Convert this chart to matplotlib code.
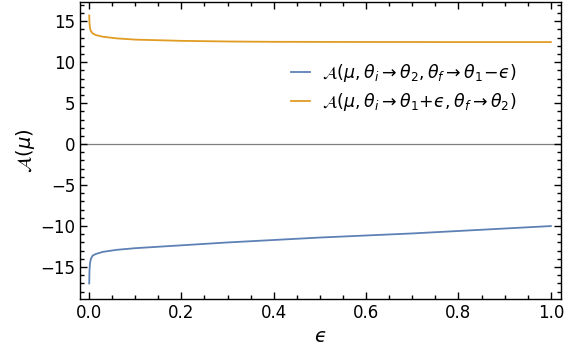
import numpy as np
import matplotlib
matplotlib.use("Agg")
import matplotlib.pyplot as plt
from matplotlib.ticker import MultipleLocator

# values
eps_blue = [0.0005, 0.001, 0.002, 0.004, 0.008, 0.015, 0.03, 0.06, 0.1,
            0.2, 0.3, 0.4, 0.5, 0.6, 0.7, 0.8, 0.9, 1.0]
a_blue = [-17.0, -15.5, -14.6, -14.0, -13.6, -13.4, -13.15, -12.9, -12.7,
          -12.35, -12.0, -11.7, -11.4, -11.15, -10.9, -10.6, -10.3, -10.0]

eps_orange = [0.0005, 0.001, 0.002, 0.004, 0.008, 0.015, 0.03, 0.06, 0.1,
              0.2, 0.3, 0.4, 0.6, 0.8, 1.0]
a_orange = [15.7, 14.8, 14.2, 13.8, 13.5, 13.3, 13.1, 12.9, 12.75,
            12.6, 12.52, 12.48, 12.46, 12.45, 12.45]

label_blue = "$\\mathcal{A}(\\mu,\\theta_i\\rightarrow\\theta_2,\\theta_f\\rightarrow\\theta_1\\!-\\!\u03f5)$"
label_orange = "$\\mathcal{A}(\\mu,\\theta_i\\rightarrow\\theta_1\\!+\\!\u03f5,\\theta_f\\rightarrow\\theta_2)$"

plt.rcParams['mathtext.fontset'] = 'dejavusans'

fig = plt.figure(figsize=(5.76, 3.56), dpi=100)
ax = fig.add_axes([80/576, 57/356, 481/576, 297.5/356])

ax.axhline(0, color='#7f7f7f', lw=0.9, zorder=1)
ax.plot(eps_blue, a_blue, color='#5E81B5', lw=1.3, label=label_blue)
ax.plot(eps_orange, a_orange, color='#E19C24', lw=1.3, label=label_orange)

ax.set_xlim(-0.0195, 1.022)
ax.set_ylim(-18.9, 17.4)
ax.xaxis.set_major_locator(MultipleLocator(0.2))
ax.xaxis.set_minor_locator(MultipleLocator(0.05))
ax.yaxis.set_major_locator(MultipleLocator(5))
ax.yaxis.set_minor_locator(MultipleLocator(1))
ax.xaxis.set_major_formatter(plt.FuncFormatter(lambda v, p: f"{v:.1f}"))
ax.yaxis.set_major_formatter(plt.FuncFormatter(lambda v, p: f"{v:.0f}".replace("-", "\u2212")))
ax.tick_params(which='both', direction='in', top=True, right=True, labelsize=12, width=1)
ax.tick_params(which='major', length=5)
ax.tick_params(which='minor', length=3)
for s in ax.spines.values():
    s.set_linewidth(1)

ax.set_xlabel("$\u03f5$", fontsize=14)
ax.set_ylabel(r"$\mathcal{A}(\mu)$", fontsize=14, labelpad=2)

ax.legend(loc='upper left', bbox_to_anchor=(0.42, 0.825), frameon=False,
          fontsize=12.5, handlelength=1.1, handletextpad=0.7, borderpad=0,
          labelspacing=0.4)

fig.savefig("out.png", dpi=100)
